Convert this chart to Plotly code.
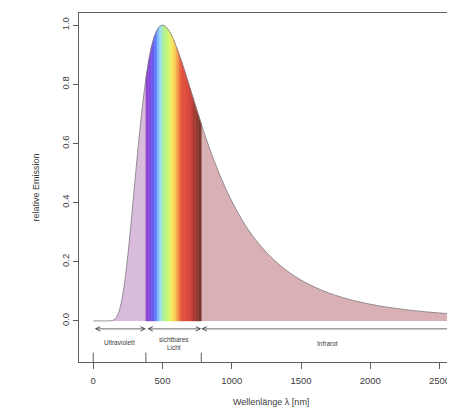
import plotly.graph_objects as go

# ---------------- data ----------------
wavelength_nm = [0, 50, 100, 120, 140, 160, 180, 200, 220, 240, 260, 280, 300, 320,
                 340, 360, 380, 400, 420, 440, 460, 480, 500, 520, 540, 560, 580,
                 600, 620, 640, 660, 680, 700, 720, 740, 760, 780, 800, 850, 900,
                 950, 1000, 1100, 1200, 1300, 1400, 1500, 1600, 1700, 1800, 1900,
                 2000, 2100, 2200, 2300, 2400, 2500, 2600]
rel_emission = [0.0, 0.0, 0.0, 0.0002, 0.0017, 0.0078, 0.0243, 0.057, 0.109, 0.181,
                0.268, 0.366, 0.468, 0.568, 0.662, 0.746, 0.819, 0.879, 0.926, 0.960,
                0.983, 0.996, 1.000, 0.996, 0.986, 0.970, 0.951, 0.927, 0.901, 0.874,
                0.845, 0.815, 0.785, 0.755, 0.724, 0.695, 0.666, 0.637, 0.570, 0.509,
                0.454, 0.405, 0.322, 0.258, 0.208, 0.169, 0.138, 0.114, 0.0945, 0.079,
                0.0665, 0.0564, 0.048, 0.0412, 0.0355, 0.0307, 0.0267, 0.0234]

region_bounds = [0, 380, 780, 2600]
region_names = ["Ultraviolett", "sichtbares<br>Licht", "Infrarot"]

x_ticks = [0, 500, 1000, 1500, 2000, 2500]
y_ticks = [0.0, 0.2, 0.4, 0.6, 0.8, 1.0]
y_ticklabels = ["0.0", "0.2", "0.4", "0.6", "0.8", "1.0"]

# ---------------- styles ----------------
UV_COLOR = "rgb(217,187,219)"
IR_COLOR = "rgb(217,177,180)"
OUTLINE = "rgb(125,120,125)"
AXIS = "rgb(95,95,95)"
TEXT = "rgb(60,60,60)"
FONT = "Liberation Sans, Arial, sans-serif"
band_colors = [
    "rgb(145,70,210)", "rgb(130,75,225)", "rgb(110,90,240)", "rgb(95,120,250)",
    "rgb(130,185,255)", "rgb(160,225,230)", "rgb(175,240,150)", "rgb(190,245,125)",
    "rgb(215,245,110)", "rgb(245,232,95)", "rgb(250,205,85)", "rgb(245,160,72)",
    "rgb(232,100,62)", "rgb(225,80,60)", "rgb(222,74,60)", "rgb(215,70,58)",
    "rgb(200,66,56)", "rgb(170,60,52)", "rgb(150,58,50)", "rgb(125,55,48)",
]

fig = go.Figure()

lo, vis_lo, vis_hi, hi = region_bounds

# UV fill
uv_x = [w for w in wavelength_nm if w <= vis_lo]
uv_y = [v for w, v in zip(wavelength_nm, rel_emission) if w <= vis_lo]
fig.add_trace(go.Scatter(x=uv_x, y=uv_y, mode="lines", fill="tozeroy",
                         fillcolor=UV_COLOR, line=dict(width=0, shape="spline"),
                         hoverinfo="skip", showlegend=False))

# IR fill
ir_x = [w for w in wavelength_nm if w >= vis_hi]
ir_y = [v for w, v in zip(wavelength_nm, rel_emission) if w >= vis_hi]
fig.add_trace(go.Scatter(x=ir_x, y=ir_y, mode="lines", fill="tozeroy",
                         fillcolor=IR_COLOR, line=dict(width=0, shape="spline"),
                         hoverinfo="skip", showlegend=False))

# visible rainbow bands
vis_idx = [i for i, w in enumerate(wavelength_nm) if vis_lo <= w < vis_hi]
for k, i in enumerate(vis_idx):
    x0, x1 = wavelength_nm[i], wavelength_nm[i + 1]
    y0, y1 = rel_emission[i], rel_emission[i + 1]
    c = band_colors[k % len(band_colors)]
    fig.add_trace(go.Scatter(x=[x0, x0, x1, x1, x0], y=[0, y0, y1, 0, 0],
                             mode="lines", fill="toself", fillcolor=c,
                             line=dict(width=0.6, color=c),
                             hoverinfo="skip", showlegend=False))

# outline
fig.add_trace(go.Scatter(x=wavelength_nm, y=rel_emission, mode="lines",
                         line=dict(width=0.8, color=OUTLINE, shape="spline"),
                         hoverinfo="skip", showlegend=False))

# region arrows
arrow_y = -0.027
annotations = []
arrow_common = dict(xref="x", yref="y", axref="x", ayref="y", text="",
                    showarrow=True, arrowcolor="rgb(70,70,70)", arrowwidth=0.8,
                    arrowhead=5, arrowsize=1.1, startarrowhead=5, startarrowsize=1.1,
                    standoff=0, startstandoff=0)
annotations.append(dict(x=vis_lo, y=arrow_y, ax=lo, ay=arrow_y,
                        arrowside="end+start", **arrow_common))
annotations.append(dict(x=vis_hi, y=arrow_y, ax=vis_lo, ay=arrow_y,
                        arrowside="end+start", **arrow_common))
annotations.append(dict(x=vis_hi, y=arrow_y, ax=hi + 150, ay=arrow_y,
                        arrowside="end", **arrow_common))

# region labels
label_y = [-0.074, -0.078, -0.078]
for j, name in enumerate(region_names):
    annotations.append(dict(x=(region_bounds[j] + region_bounds[j + 1]) / 2,
                            y=label_y[j], xref="x", yref="y", text=name,
                            showarrow=False, font=dict(size=6.5, color=TEXT, family=FONT),
                            align="center"))

# axis titles
annotations.append(dict(x=0.51, y=-0.135, xref="paper", yref="paper",
                        text="Wellenlänge λ [nm]", showarrow=False,
                        font=dict(size=9, color=TEXT, family=FONT)))
annotations.append(dict(x=-0.117, y=0.5, xref="paper", yref="paper",
                        xanchor="center", yanchor="middle",
                        text="relative Emission", showarrow=False, textangle=-90,
                        font=dict(size=9, color=TEXT, family=FONT)))

# inward ticks at region boundaries
shapes = []
for b in region_bounds[:-1]:
    shapes.append(dict(type="line", xref="x", yref="paper", x0=b, x1=b, y0=0, y1=0.027,
                       line=dict(color=AXIS, width=1)))

fig.update_layout(
    width=447, height=406,
    margin=dict(l=71, r=0, t=5, b=52),
    plot_bgcolor="white", paper_bgcolor="white",
    font=dict(family=FONT, color=TEXT),
    annotations=annotations, shapes=shapes,
    xaxis=dict(range=[-103, 2612], tickvals=x_ticks, ticks="outside", ticklen=6,
               tickcolor=AXIS, tickwidth=1, showline=True, mirror=True,
               linecolor=AXIS, linewidth=1, showgrid=False, zeroline=False,
               ticklabelstandoff=4,
               tickfont=dict(size=9.5, color=TEXT, family=FONT)),
    yaxis=dict(range=[-0.139, 1.041], tickvals=y_ticks, ticktext=y_ticklabels,
               tickangle=-90, ticks="outside", ticklen=5, tickcolor=AXIS, tickwidth=1,
               showline=True, mirror=False, linecolor=AXIS, linewidth=1,
               showgrid=False, zeroline=False,
               tickfont=dict(size=9.5, color=TEXT, family=FONT)),
)

fig.write_html("out.html")
